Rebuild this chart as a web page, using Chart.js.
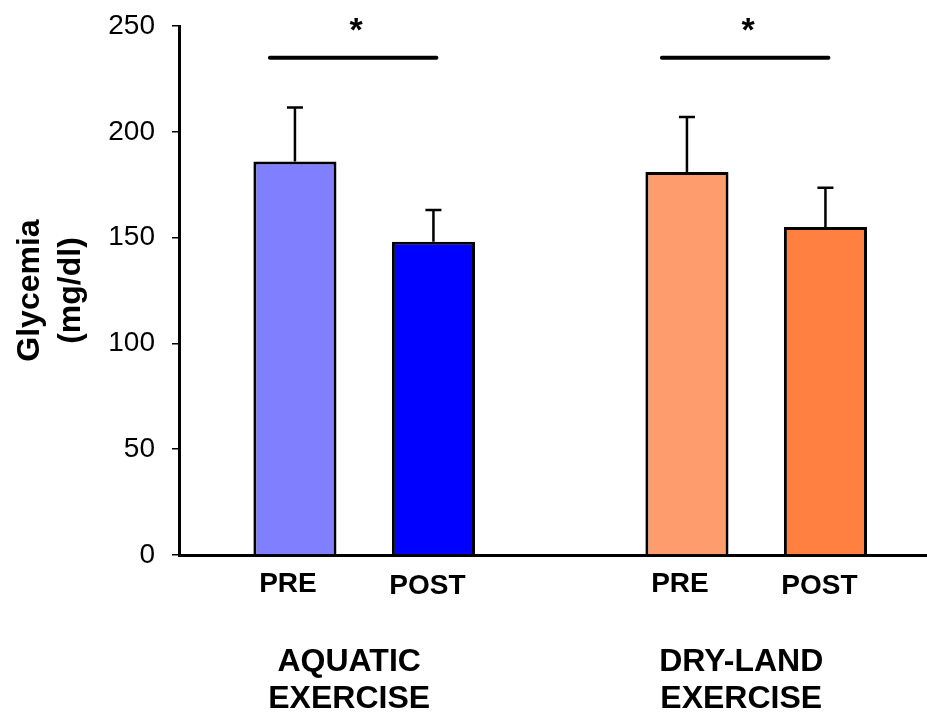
<!DOCTYPE html>
<html lang="en">
<head>
<meta charset="UTF-8">
<title>Glycemia pre / post exercise</title>
<script src="https://cdn.jsdelivr.net/npm/chart.js"></script>
<style>
    html, body { margin: 0; padding: 0; background: #fff; }
    .chart_div { width: 927px; height: 713px; }
</style>
</head>
<body>
<div class="chart_div"><canvas id="chart1"></canvas></div>
<script>
// values (mg/dl)
const groups = [['AQUATIC', 'EXERCISE'], ['DRY-LAND', 'EXERCISE']];
const phases = ['PRE', 'POST'];
const preMean = [186, 181];
const preSD = [25.5, 26];
const postMean = [148, 155];
const postSD = [15, 18.5];
const sigLevel = [235, 235];
const yTicks = [0, 50, 100, 150, 200, 250];

const FONT = "'Liberation Sans', Arial, sans-serif";
Chart.defaults.font.family = FONT;
Chart.defaults.color = '#000';

// upward error bars
const errorBars = {
    id: 'errorBars',
    afterDatasetsDraw(chart) {
        const ctx = chart.ctx;
        const y = chart.scales.y;
        const sds = [preSD, postSD];
        ctx.save();
        ctx.strokeStyle = '#000';
        ctx.lineWidth = 2.5;
        chart.data.datasets.forEach((ds, d) => {
            chart.getDatasetMeta(d).data.forEach((bar, i) => {
                const top = y.getPixelForValue(ds.data[i].y + sds[d][i]);
                ctx.beginPath();
                ctx.moveTo(bar.x, bar.y);
                ctx.lineTo(bar.x, top);
                ctx.moveTo(bar.x - 8, top);
                ctx.lineTo(bar.x + 8, top);
                ctx.stroke();
            });
        });
        ctx.restore();
    }
};

// PRE/POST labels, group labels and significance marks
const annotations = {
    id: 'annotations',
    afterDraw(chart) {
        const ctx = chart.ctx;
        const y = chart.scales.y;
        const bottom = chart.chartArea.bottom;
        const pre = chart.getDatasetMeta(0).data;
        const post = chart.getDatasetMeta(1).data;
        ctx.save();
        ctx.fillStyle = '#000';
        ctx.textAlign = 'center';
        ctx.textBaseline = 'alphabetic';

        ctx.font = 'bold 28px ' + FONT;
        groups.forEach((g, i) => {
            ctx.fillText(phases[0], pre[i].x - 7, bottom + 37);
            ctx.fillText(phases[1], post[i].x - 6, bottom + 39);
        });

        ctx.font = 'bold 32px ' + FONT;
        groups.forEach((g, i) => {
            const cx = (pre[i].x + post[i].x) / 2 - 15;
            ctx.fillText(g[0], cx, bottom + 116);
            ctx.fillText(g[1], cx, bottom + 153);
        });

        ctx.strokeStyle = '#000';
        ctx.lineWidth = 4;
        ctx.lineCap = 'round';
        ctx.font = 'bold 34px ' + FONT;
        sigLevel.forEach((lv, i) => {
            const ly = y.getPixelForValue(lv);
            ctx.beginPath();
            ctx.moveTo(pre[i].x - 25, ly);
            ctx.lineTo(post[i].x + 3, ly);
            ctx.stroke();
            ctx.fillText('*', (pre[i].x + post[i].x) / 2 - 8, ly - 17);
        });
        ctx.restore();
    }
};

new Chart(document.getElementById('chart1'), {
    type: 'bar',
    data: {
        datasets: [{
            label: phases[0],
            data: preMean.map((v, i) => ({ x: i, y: v })),
            backgroundColor: ['#8080ff', '#ff9c6e'],
            borderColor: '#000',
            borderWidth: 3
        }, {
            label: phases[1],
            data: postMean.map((v, i) => ({ x: i, y: v })),
            backgroundColor: ['#0000ff', '#ff8040'],
            borderColor: '#000',
            borderWidth: 3
        }]
    },
    options: {
        responsive: true,
        maintainAspectRatio: false,
        animation: false,
        categoryPercentage: 0.7066,
        barPercentage: 0.6,
        layout: { padding: { top: 26, right: 0, bottom: 158, left: 0 } },
        plugins: {
            legend: { display: false },
            tooltip: { enabled: false }
        },
        scales: {
            x: {
                type: 'linear',
                offset: false,
                min: -0.4724,
                max: 1.4357,
                afterBuildTicks: (scale) => { scale.ticks = groups.map((g, i) => ({ value: i })); },
                ticks: { display: false },
                grid: { display: false, drawTicks: false },
                border: { display: true, color: '#000', width: 3 }
            },
            y: {
                min: 0,
                max: 250,
                afterBuildTicks: (scale) => { scale.ticks = yTicks.map(v => ({ value: v })); },
                afterFit: (scale) => {
                    scale.width = 179;
                    scale.paddingTop = 0;
                    scale.paddingBottom = 0;
                },
                ticks: { padding: 17, font: { size: 28 } },
                grid: { drawOnChartArea: false, drawTicks: true, tickLength: 7, color: '#000', lineWidth: 1.5 },
                border: { display: true, color: '#000', width: 3 },
                title: {
                    display: true,
                    text: ['Glycemia', '(mg/dl)'],
                    font: { size: 32, weight: 'bold', lineHeight: 1.28 },
                    padding: { top: 10, bottom: 0 }
                }
            }
        }
    },
    plugins: [errorBars, annotations]
});
</script>
</body>
</html>
